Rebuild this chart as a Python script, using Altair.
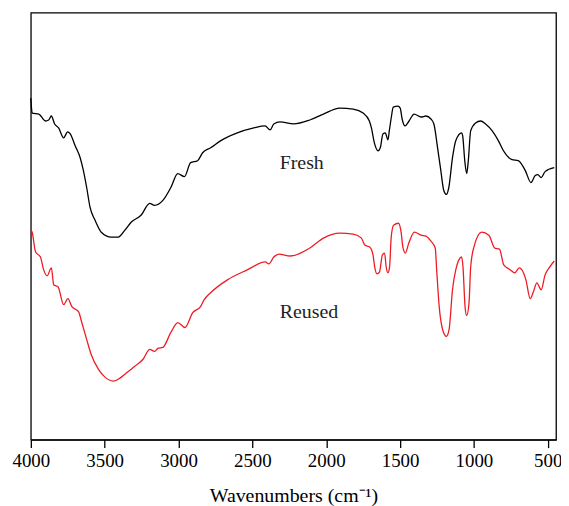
import altair as alt
import pandas as pd

# Fresh catalyst spectrum (wavenumber, transmittance a.u.)
fresh_wn = [4000, 3995, 3991, 3946, 3901, 3879, 3861, 3839, 3812, 3778, 3751, 3733, 3700, 3666,
            3644, 3622, 3599, 3565, 3523, 3456, 3408, 3363, 3321, 3254, 3195, 3162, 3106, 3052,
            3005, 2960, 2918, 2871, 2837, 2783, 2716, 2602, 2490, 2414, 2380, 2355, 2313, 2221,
            2111, 2019, 1909, 1817, 1750, 1708, 1694, 1674, 1649, 1634, 1616, 1600, 1582, 1573,
            1560, 1546, 1515, 1499, 1486, 1466, 1439, 1405, 1358, 1325, 1291, 1271, 1246, 1224,
            1204, 1186, 1170, 1145, 1123, 1083, 1076, 1062, 1049, 1038, 1022, 989, 955, 921, 876,
            834, 800, 742, 700, 652, 614, 585, 567, 545, 518, 456]
fresh_t = [344, 333, 329, 328, 321, 322, 326, 318, 314, 304, 310, 308, 296, 284,
           271, 254, 234, 221, 209, 204, 204, 211, 219, 226, 238, 236, 241, 254,
           268, 265, 279, 281, 289, 294, 301, 309, 314, 316, 312, 318, 320, 318,
           322, 328, 334, 333, 329, 321, 314, 299, 291, 294, 308, 309, 302, 311,
           324, 335, 336, 334, 323, 316, 321, 328, 325, 326, 323, 318, 294, 271,
           251, 247, 254, 284, 301, 309, 306, 281, 268, 281, 311, 319, 321, 318, 311,
           301, 291, 282, 281, 271, 259, 266, 267, 264, 270, 274]

# Reused catalyst spectrum
reused_wn = [4000, 3991, 3968, 3935, 3913, 3890, 3861, 3845, 3816, 3778, 3749, 3722, 3677, 3655,
             3622, 3592, 3543, 3498, 3442, 3397, 3363, 3296, 3240, 3195, 3162, 3140, 3106, 3052,
             3005, 2956, 2904, 2851, 2826, 2783, 2669, 2535, 2412, 2389, 2355, 2321, 2243, 2111,
             2019, 1907, 1817, 1762, 1739, 1706, 1683, 1672, 1656, 1639, 1620, 1605, 1594, 1582,
             1571, 1560, 1544, 1511, 1493, 1481, 1464, 1441, 1403, 1358, 1325, 1291, 1262, 1251,
             1235, 1212, 1186, 1168, 1145, 1123, 1083, 1074, 1060, 1049, 1033, 1022, 1000, 948,
             899, 859, 827, 798, 753, 724, 693, 675, 648, 619, 597, 574, 545, 518, 491, 456]
reused_t = [211, 209, 189, 184, 171, 165, 173, 156, 154, 136, 142, 134, 129, 118,
            101, 86, 71, 63, 59, 62, 66, 74, 81, 91, 89, 92, 93, 108,
            118, 113, 128, 134, 141, 148, 161, 171, 179, 177, 184, 187, 185, 193,
            203, 208, 207, 203, 196, 194, 186, 174, 167, 169, 186, 188, 174, 168,
            174, 204, 216, 218, 209, 194, 188, 198, 209, 206, 205, 200, 193, 168,
            134, 111, 104, 111, 151, 171, 184, 174, 134, 125, 138, 174, 194, 209,
            206, 193, 192, 176, 171, 168, 173, 171, 161, 142, 149, 158, 151, 166, 173, 180]

series_names = ["Fresh", "Reused"]
series_colors = ["#000000", "#ed1c24"]
tick_values = [4000, 3500, 3000, 2500, 2000, 1500, 1000, 500]

label_names = ["Fresh", "Reused"]
label_wn = [2315, 2315]
label_t = [272.7, 122.7]

df = pd.concat([
    pd.DataFrame({"wn": fresh_wn, "t": fresh_t, "series": "Fresh"}),
    pd.DataFrame({"wn": reused_wn, "t": reused_t, "series": "Reused"}),
])
labels = pd.DataFrame({"wn": label_wn, "t": label_t, "text": label_names})

FONT = "Liberation Serif"

x_enc = alt.X("wn:Q",
              scale=alt.Scale(domain=[444, 4000], reverse=True, nice=False, zero=False),
              axis=alt.Axis(values=tick_values, format="d", title="Wavenumbers (cm⁻¹)",
                            grid=False, tickSize=8, tickColor="black", tickWidth=1.3,
                            domainColor="black", domainWidth=1.3,
                            labelFont=FONT, labelFontSize=19, labelColor="black",
                            labelBaseline="alphabetic", labelPadding=19,
                            labelFlush=False, labelOverlap=False,
                            titleFont=FONT, titleFontSize=20, titleFontWeight="normal",
                            titleColor="black", titleBaseline="alphabetic", titleY=62))
y_enc = alt.Y("t:Q", scale=alt.Scale(domain=[0, 430], nice=False, zero=False), axis=None)

lines = alt.Chart(df).mark_line(strokeWidth=1.3, interpolate="monotone").encode(
    x=x_enc,
    y=y_enc,
    color=alt.Color("series:N", scale=alt.Scale(domain=series_names, range=series_colors), legend=None),
    detail="series:N",
)

texts = alt.Chart(labels).mark_text(font=FONT, fontSize=20, align="left", baseline="alphabetic",
                                    color="#222222").encode(
    x=alt.X("wn:Q"), y=alt.Y("t:Q"), text="text:N")

chart = alt.layer(lines, texts).properties(
    width=529, height=430,
    background="white",
    autosize=alt.AutoSizeParams(type="none"),
    padding={"left": 23, "top": 3, "right": 5, "bottom": 65},
).configure_view(stroke="black", strokeWidth=1.3)

chart.save("out.html", embed_options={"renderer": "svg", "actions": False})
